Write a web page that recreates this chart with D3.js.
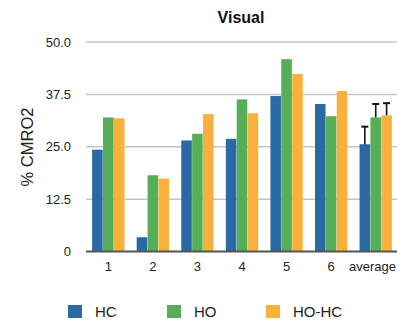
<!DOCTYPE html>
<html><head><meta charset="utf-8">
<script src="https://cdn.jsdelivr.net/npm/d3@7"></script>
<style>body{margin:0;background:#fff;overflow:hidden}svg{display:block;font-family:"Liberation Sans",Arial,Helvetica,sans-serif}</style>
</head><body><svg id="c" width="397" height="320"></svg>
<script>
const categories = ["1","2","3","4","5","6","average"];
const seriesNames = ["HC","HO","HO-HC"];
const HC   = [24.3, 3.4, 26.5, 26.9, 37.1, 35.2, 25.6];
const HO   = [32.0, 18.2, 28.1, 36.3, 45.9, 32.3, 32.0];
const HOHC = [31.8, 17.4, 32.8, 33.0, 42.4, 38.3, 32.5];
const errTop = [29.8, 35.2, 35.4]; // error bar tops for "average" (HC, HO, HO-HC)
const yTicks = [0, 12.5, 25, 37.5, 50];
const yTickLabels = ["0","12.5","25.0","37.5","50.0"];
const colors = ["#2a69a4","#56ae59","#f9b13d"];

const svg = d3.select("#c");
const series = [HC, HO, HOHC];
const x = d3.scaleBand().domain(categories).range([86, 398]).paddingInner(0.26).paddingOuter(0.13);
const xi = d3.scaleBand().domain(seriesNames).range([0, x.bandwidth()]).padding(0.03);
const y = d3.scaleLinear().domain([0, 50]).range([251.5, 42]);

// gridlines
svg.append("g").selectAll("line").data(yTicks.filter(d=>d>0)).join("line")
  .attr("x1", 86).attr("x2", 397).attr("y1", d=>y(d)).attr("y2", d=>y(d))
  .attr("stroke", "#c4c4c4").attr("stroke-width", 1.5);

// y tick labels
svg.append("g").selectAll("text").data(yTicks).join("text")
  .attr("x", 71).attr("y", d=>y(d)).attr("dy", "0.35em").attr("text-anchor","end")
  .attr("font-size", 13).attr("fill", "#222").text((d,i)=>yTickLabels[i]);

// bars
categories.forEach((c, ci) => {
  const g = svg.append("g").attr("transform", `translate(${x(c)},0)`);
  seriesNames.forEach((s, si) => {
    const v = series[si][ci];
    g.append("rect").attr("x", xi(s)).attr("width", xi.bandwidth())
      .attr("y", y(v)).attr("height", y(0) - y(v)).attr("fill", colors[si]);
  });
});

// error bars on average
const avg = categories[categories.length-1];
seriesNames.forEach((s, si) => {
  const cx = x(avg) + xi(s) + xi.bandwidth()/2;
  const v = series[si][categories.length-1];
  svg.append("line").attr("x1", cx).attr("x2", cx).attr("y1", y(v)).attr("y2", y(errTop[si]))
    .attr("stroke", "#111").attr("stroke-width", 1.6);
  svg.append("line").attr("x1", cx-3.5).attr("x2", cx+3.5).attr("y1", y(errTop[si])).attr("y2", y(errTop[si]))
    .attr("stroke", "#111").attr("stroke-width", 2);
});

// baseline
svg.append("line").attr("x1", 86).attr("x2", 397).attr("y1", y(0)).attr("y2", y(0))
  .attr("stroke", "#555").attr("stroke-width", 2);

// x labels
svg.append("g").selectAll("text").data(categories).join("text")
  .attr("x", (d,i)=> i === categories.length-1 ? 396 : x(d)+x.bandwidth()/2).attr("y", 266).attr("dy","0.35em")
  .attr("text-anchor", (d,i)=> i === categories.length-1 ? "end" : "middle")
  .attr("font-size", 13).attr("fill","#222").text(d=>d);

// title
svg.append("text").attr("x", 241).attr("y", 23).attr("text-anchor","middle")
  .attr("font-size", 16).attr("font-weight","bold").attr("fill","#111").text("Visual");

// y label
svg.append("text").attr("transform", "translate(33,147) rotate(-90)").attr("text-anchor","middle")
  .attr("font-size", 16.5).attr("fill","#222").text("% CMRO2");

// legend
const legX = [68, 167, 266];
seriesNames.forEach((s, si) => {
  svg.append("rect").attr("x", legX[si]).attr("y", 305).attr("width", 14).attr("height", 13).attr("fill", colors[si]);
  svg.append("text").attr("x", legX[si]+27).attr("y", 311.5).attr("dy","0.35em")
    .attr("font-size", 15).attr("fill","#222").text(s);
});
</script></body></html>
